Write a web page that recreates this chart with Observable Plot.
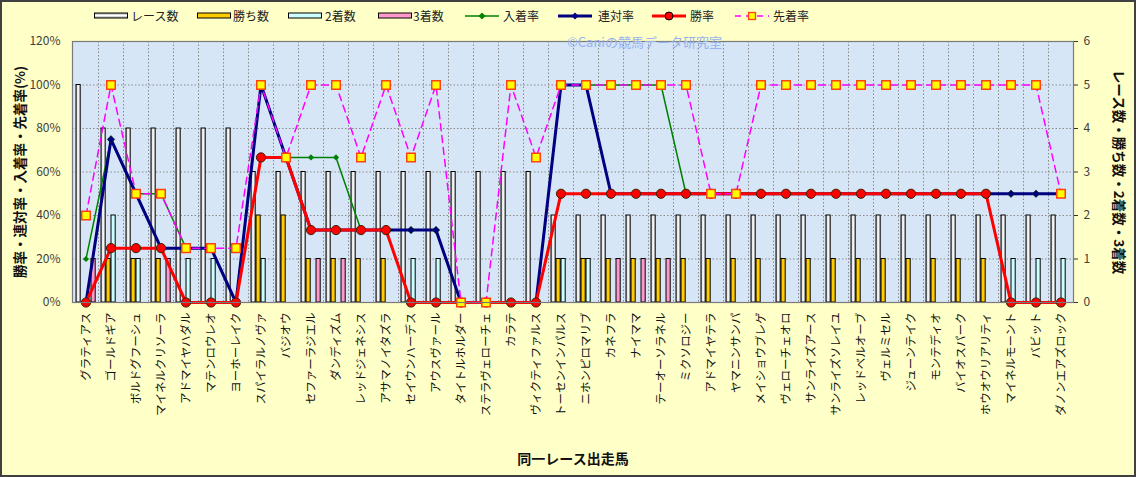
<!DOCTYPE html>
<html><head><meta charset="utf-8">
<script src="https://cdn.jsdelivr.net/npm/d3@7"></script>
<script src="https://cdn.jsdelivr.net/npm/@observablehq/plot@0.6"></script>
<style>
body{margin:0;background:#fff;}
#wrap{position:relative;width:1136px;height:477px;background:#ffffc8;overflow:hidden;font-family:"Noto Sans CJK JP",sans-serif;}
#chart{position:absolute;left:0;top:0;}
#border{position:absolute;left:0;top:0;width:1136px;height:477px;box-sizing:border-box;border:2px solid #404040;pointer-events:none;}
.lg{position:absolute;top:7px;height:18px;font-size:12px;line-height:18px;color:#222;white-space:nowrap;}
.sw{position:absolute;top:7px;}
#wm{position:absolute;left:567px;top:32px;font-size:13px;color:#98b2ee;white-space:nowrap;}
</style></head><body>
<div id="wrap"><div id="chart"></div><div id="legend"></div><div id="wm">©Caniの競馬データ研究室</div><div id="border"></div></div>
<script>
const horses = ["グラティアス","ゴールドギア","ボルドグフーシュ","マイネルクリソーラ","アドマイヤハダル","マテンロウレオ","ヨーホーレイク","スパイラルノヴァ","バジオウ","セファーラジエル","ダンディズム","レッドジェネシス","アサマノイタズラ","セイウンハーデス","アウスヴァール","タイトルホルダー","ステラヴェローチェ","カラテ","ヴィクティファルス","トーセンインパルス","ニホンピロマリブ","カネフラ","ナイママ","テーオーソラネル","ミクソロジー","アドマイヤテラ","ヤマニンサンパ","メイショウブレゲ","ヴェローチェオロ","サンライズアース","サンライズソレイユ","レッドベルオーブ","ヴェルミセル","ジューンテイク","モンテディオ","バイオスパーク","ホウオウリアリティ","マイネルモーント","バビット","ダノンエアズロック"];
const races   = [5,4,4,4,4,4,4,3,3,3,3,3,3,3,3,3,3,3,3,2,2,2,2,2,2,2,2,2,2,2,2,2,2,2,2,2,2,2,2,2];
const wins    = [0,1,1,1,0,0,0,2,2,1,1,1,1,0,0,0,0,0,0,1,1,1,1,1,1,1,1,1,1,1,1,1,1,1,1,1,1,0,0,0];
const seconds = [0,2,1,0,1,1,0,1,0,0,0,0,0,1,1,0,0,0,0,1,1,0,0,0,0,0,0,0,0,0,0,0,0,0,0,0,0,1,1,1];
const thirds  = [1,0,0,1,0,0,0,0,0,1,1,0,0,0,0,0,0,0,0,0,0,1,1,1,0,0,0,0,0,0,0,0,0,0,0,0,0,0,0,0];
const placeRate    = [20,75,50,50,25,25,0,100,66.7,66.7,66.7,33.3,33.3,33.3,33.3,0,0,0,0,100,100,100,100,100,50,50,50,50,50,50,50,50,50,50,50,50,50,50,50,50];
const rentaiRate   = [0,75,50,25,25,25,0,100,66.7,33.3,33.3,33.3,33.3,33.3,33.3,0,0,0,0,100,100,50,50,50,50,50,50,50,50,50,50,50,50,50,50,50,50,50,50,50];
const winRate      = [0,25,25,25,0,0,0,66.7,66.7,33.3,33.3,33.3,33.3,0,0,0,0,0,0,50,50,50,50,50,50,50,50,50,50,50,50,50,50,50,50,50,50,0,0,0];
const senchakuRate = [40,100,50,50,25,25,25,100,66.7,100,100,66.7,100,66.7,100,0,0,100,66.7,100,100,100,100,100,100,50,50,100,100,100,100,100,100,100,100,100,100,100,100,50];
const yTicks = [0,20,40,60,80,100,120];
const legendItems = [
  {name:"レース数", kind:"bar", fill:"url(#raceGradL)", sx:94, tx:131},
  {name:"勝ち数", kind:"bar", fill:"#ffcc00", sx:197, tx:233},
  {name:"2着数", kind:"bar", fill:"#ccffff", sx:288, tx:325},
  {name:"3着数", kind:"bar", fill:"#ff99cc", sx:378, tx:413},
  {name:"入着率", kind:"line", color:"#008000", sym:"diamond", sx:465, tx:503},
  {name:"連対率", kind:"line", color:"#000080", sym:"diamond", sx:558, tx:598},
  {name:"勝率", kind:"line", color:"#ff0000", sym:"circle", sx:652, tx:690},
  {name:"先着率", kind:"line", color:"#ff00ff", sym:"square", sx:735, tx:773}
];

const W=1136, H=477, ML=72, MR=63, MT=41, MB=175;
const bw = (W-ML-MR)/horses.length;
const tbl = horses.map((h,i)=>({h, races:races[i], wins:wins[i], seconds:seconds[i], thirds:thirds[i],
  place:placeRate[i], rentai:rentaiRate[i], win:winRate[i], sen:senchakuRate[i]}));

function bars(key, k, fill){
  const left = bw/2 - 10 + 5*k + 0.5;
  return Plot.barY(tbl.filter(d=>d[key]>0), {x:"h", y:d=>d[key]*20,
    insetLeft:left, insetRight:bw-left-4.2, fill, stroke:"#000", strokeWidth:1});
}
function series(key, lineOpts, dotOpts){
  return [Plot.line(tbl, {x:"h", y:key, ...lineOpts}), Plot.dot(tbl, {x:"h", y:key, ...dotOpts})];
}

const plot = Plot.plot({
  width:W, height:H, marginLeft:ML, marginRight:MR, marginTop:MT, marginBottom:MB,
  style:{background:"transparent", fontFamily:"'Noto Sans CJK JP', sans-serif", overflow:"visible"},
  x:{type:"band", domain:horses, padding:0},
  y:{domain:[0,120]},
  marks:[
    Plot.frame({fill:"#d6e6f7"}),
    Plot.gridY(yTicks, {stroke:"#8a8a8a", strokeOpacity:1, strokeDasharray:"1.5,2"}),
    Plot.ruleX(horses.slice(0,-1), {x:d=>d, dx:bw/2, stroke:"#8a8a8a", strokeDasharray:"1.5,2"}),
    bars("races",0,"url(#raceGrad)"),
    bars("wins",1,"#ffcc00"),
    bars("seconds",2,"#ccffff"),
    bars("thirds",3,"#ff99cc"),
    ...series("place", {stroke:"#008000", strokeWidth:1.5}, {symbol:"diamond2", r:2.8, fill:"#008000"}),
    ...series("rentai", {stroke:"#000080", strokeWidth:3}, {symbol:"diamond2", r:3.4, fill:"#000080", stroke:"#004000", strokeWidth:0.6}),
    ...series("win", {stroke:"#ff0000", strokeWidth:3}, {symbol:"circle", r:4.6, fill:"#ff0000", stroke:"#3a2000", strokeWidth:1}),
    ...series("sen", {stroke:"#ff00ff", strokeWidth:1.5, strokeDasharray:"7,5"}, {symbol:"square", r:4.8, fill:"#ffff00", stroke:"#ff4010", strokeWidth:1.5}),
    Plot.frame({stroke:"#7a7a7a", strokeWidth:1.2}),
    Plot.axisY(yTicks, {anchor:"left", tickFormat:d=>d+"%", tickSize:0, tickPadding:12, fontSize:12, fill:"#404040", label:null}),
    Plot.axisY(yTicks, {anchor:"right", tickFormat:d=>String(d/20), tickSize:4, tickPadding:6, fontSize:12, fill:"#404040", stroke:"#333", label:null}),
    Plot.axisX({tickRotate:-90, tickSize:0, tickPadding:10, fontSize:11.5, fill:"#111", textAnchor:"end", label:null}),
    Plot.text(["勝率・連対率・入着率・先着率(%)"], {text:d=>d, frameAnchor:"left", textAnchor:"middle", dx:-52, rotate:-90, fontWeight:"bold", fontSize:13.5, fill:"#111"}),
    Plot.text(["レース数・勝ち数・2着数・3着数"], {text:d=>d, frameAnchor:"right", textAnchor:"middle", dx:45, rotate:90, fontWeight:"bold", fontSize:13.5, fill:"#111"}),
    Plot.text(["同一レース出走馬"], {text:d=>d, frameAnchor:"bottom", textAnchor:"middle", dy:161, fontWeight:"bold", fontSize:14, fill:"#111"})
  ]
});

const svg = d3.select(plot);
const defs = svg.insert("defs", ":first-child");
const g = defs.append("linearGradient").attr("id", "raceGrad").attr("x1",0).attr("y1",0).attr("x2",1).attr("y2",0);
g.append("stop").attr("offset","0").attr("stop-color","#9a9a9a");
g.append("stop").attr("offset","0.45").attr("stop-color","#ffffff");
g.append("stop").attr("offset","1").attr("stop-color","#d8d8d8");
document.getElementById("chart").appendChild(plot);

// legend
const lg = document.getElementById("legend");
let html = "";
for (const it of legendItems) {
  let sw;
  if (it.kind === "bar") {
    sw = `<svg class="sw" style="left:${it.sx}px" width="36" height="18"><defs><linearGradient id="raceGradL" x1="0" y1="0" x2="0" y2="1"><stop offset="0" stop-color="#9a9a9a"/><stop offset="0.5" stop-color="#ffffff"/><stop offset="1" stop-color="#9a9a9a"/></linearGradient></defs><rect x="0.5" y="6" width="33" height="5" fill="${it.fill}" stroke="#000"/></svg>`;
  } else {
    let m = "";
    if (it.sym === "diamond") m = `<path d="M17,5.5L20.5,9L17,12.5L13.5,9Z" fill="${it.color}"/>`;
    else if (it.sym === "circle") m = `<circle cx="17" cy="9" r="4" fill="#ff0000" stroke="#000"/>`;
    else m = `<rect x="13.5" y="5.5" width="7" height="7" fill="#ffff00" stroke="#ff4010" stroke-width="1.3"/>`;
    const w = (it.color === "#008000" || it.color === "#ff00ff") ? 1.5 : 3;
    const dash = it.color === "#ff00ff" ? ` stroke-dasharray="6,5"` : "";
    sw = `<svg class="sw" style="left:${it.sx}px" width="36" height="18"><line x1="0" y1="9" x2="34" y2="9" stroke="${it.color}" stroke-width="${w}"${dash}/>${m}</svg>`;
  }
  html += sw + `<div class="lg" style="left:${it.tx}px">${it.name}</div>`;
}
lg.innerHTML = html;
</script>
</body></html>
